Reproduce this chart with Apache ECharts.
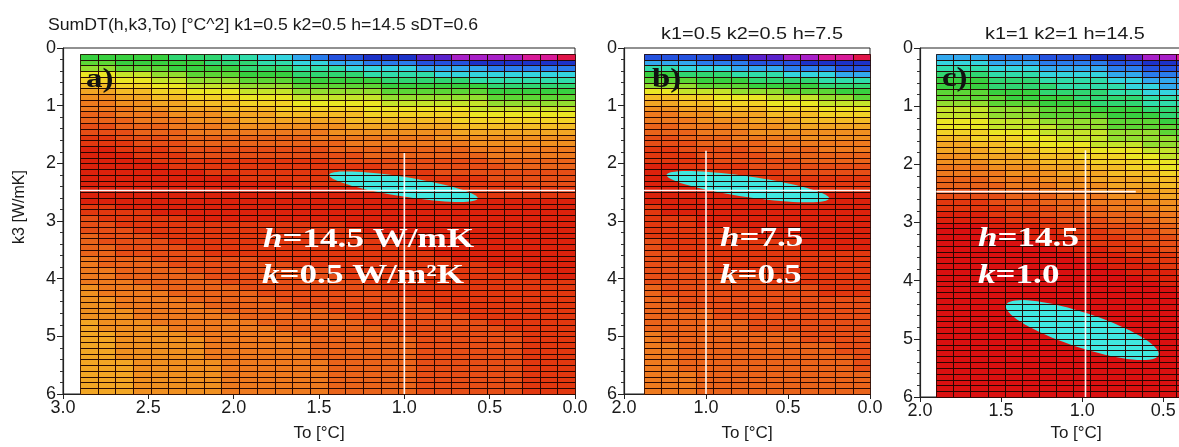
<!DOCTYPE html>
<html><head><meta charset="utf-8">
<script src="https://cdn.jsdelivr.net/npm/echarts@6/dist/echarts.min.js"></script>
<style>html,body{margin:0;padding:0;background:#fff;overflow:hidden}#c{width:1260px;height:447px}</style>
</head><body><div id="c"></div>
<script>
// ---------------- data ----------------
// k3 rows: from kTop downward in steps of kStep; To columns: from toMax down to 0
const kTop = 0.1, kStep = 0.1;
const aToMax = 2.9, bToMax = 1.38, cToMax = 1.9;
// each row: run-length coded colour level (A = deep red ... Z = pink-red)
const aRows = [
"O5P3Q2R2S1T1U2V3W2X4Y2Z1","N2O5P3Q2R2S2T3U3V6","M2N3O4P3Q3R4S4T5","K2L2M2N3O3P4Q4R8",
"J2K2L2M3N3O5P5Q6","I2J2K2L3M3N5O6P5","H2I2J2K3L3M5N6O5","G2H2I2J3K3L5M6N5",
"F2G2H2I3J3K5L6M5","F3G2H3I3J5K6L6","E2F3G3H3I5J6K6","E3F3G3H6I6J7",
"D2E3F3G7H6I7","D3E3F8G7H7","C2D3E8F7G8","C3D3E9F7G6",
"B2C3D9E8F6","B3C3D10E7F5","B4C10D9E5","B5C12D7E4",
"B7C13D8","B9C14D5","B12C13D3","B16C12",
"B20C8","B28","C2B26","C4B24",
"D1C5B22","D2C13B13","D3C13B12","E1D3C13B11",
"E1D4C13B10","E2D4C13B9","E2D5C13B8","F1E3D6C11B7",
"F1E4D7C11B5","F2E4D8C11B3","F2E5D8C11B2","F3E5D8C12",
"G1F3E5D8C11","G1F4E5D8C10","G2F4E5D8C9","G2F5E5D8C8",
"G3F5E6D7C7","G3F6E6D7C6","H1G3F6E6D7C5","H1G4F6E6D7C4",
"H2G4F6E6D7C3","H2G5F6E6D6C3","H2G5F6E6D6C3","H2G5F6E6D6C3",
"H2G5F6E6D6C3","H3G5F6E5D6C3","H3G5F6E5D6C3","H3G5F6E5D6C3",
"H3G5F6E5D6C3","H3G5F6E5D6C3","H3G5F6E5D6C3"
];
const bRows = [
"U4V2W2X2Y2Z1","S3T3U3V4","Q2R3S3T3U2","O2P3Q3R3S2",
"N3O3P4Q3","M3N3O4P3","K2L3M3N3O2","I2J2K3L3M2N1",
"H2I2J3K3L3","G2H2I3J3K3","F2G2H3I3J3","F3G3H3I4",
"E2F3G3H5","E3F3G7","D2E3F4G4","D3E4F6",
"C2D4E4F3","C3D4E6","C4D5E4","B2C4D7",
"B3C5D5","B4C9","B5C8","B10C3",
"B13","B13","C1B12","C1B12",
"C3B10","C3B10","C6B7","C6B7",
"D1C8B4","D1C8B4","D2C11","D2C11",
"D4C9","D4C9","D7C6","D7C6",
"E1D9C3","E1D9C3","E2D11","E2D11",
"E4D9","E4D9","E6D7","E6D7",
"F1E8D4","F1E8D4","F2E9D2","F2E9D2",
"F2E10D1","F2E10D1","F2E10D1","F3E10",
"F3E10","F3E10","F3E10"
];
const cRows = [
"S3T3U3V2W1X2Y2Z2","R3S3T4U2V3W3","Q3R3S4T2U3V3","P3Q3R4S2T3U3",
"O3P3Q4R2S3T3","O3P4Q4R2S3T2","N3O3P4Q2R3S3","N4O4P4Q3R3",
"M3N3O3P3Q4R2","L3M3N3O3P4Q2","L3M3N4O3P4Q1","K3L3M4N3O4P1",
"K3L4M3N4O4","J3K3L4M3N4O1","I2J3K2L3M4N4","H2I2J2K3L3M4N2",
"H3I3J3K3L2M4","G2H3I3J3K2L5","G3H3I3J3K2L4","F3G3H3I2J2K5",
"F4G3H3I3J2K3","E3F3G3H3I3J3","E4F3G3H3I3J2","D3E3F3G3H3I3",
"D4E3F3G3H3I2","C3D3E3F3G3H3","C4D3E3F3G3H2","B3C3D3E3F3G3",
"B4C3D3E3F3G2","A3B3C3D3E2F4","A4B3C3D3E2F3","A5B3C3D3E3F1",
"A6B3C3D3E3","A7B3C3D3E2","A8B3C3D3E1","A9B3C3D3",
"A10B3C3D2","A11B3C3D1","A12B3C3","A13B3C2",
"A14B3C1","A15B3","A18","A18",
"A18","A18","A18","A18",
"A18","A18","A18","A18",
"A18","A18","A18","A18",
"A18","A18","A18"
];
// minimum (cyan) regions: [To tip 1, k3 tip 1, To tip 2, k3 tip 2, half thickness in k3]
const aMinRegion = [1.44, 2.20, 0.57, 2.61, 0.17];
const bMinRegion = [1.24, 2.20, 0.25, 2.61, 0.18];
const cMinRegion = [1.47, 4.42, 0.53, 5.28, 0.30];
// white cross-hair lines [To, k3]
const aCrossH = [[2.9, 2.47], [0.0, 2.47]];
const aCrossV = [[1.0, 1.82], [1.0, 6.0]];
const bCrossH = [[1.38, 2.47], [0.0, 2.47]];
const bCrossV = [[1.0, 1.78], [1.0, 6.0]];
const cCrossH = [[1.9, 2.47], [0.67, 2.47]];
const cCrossV = [[0.98, 1.76], [0.98, 6.0]];
// tick labels of panel b (as printed)
const bTickValues = [1.5, 1.0, 0.5, 0.0];
const bTickLabels = ['2.0', '1.0', '0.5', '0.0'];
const titles = ['SumDT(h,k3,To) [°C^2] k1=0.5 k2=0.5 h=14.5 sDT=0.6', 'k1=0.5 k2=0.5 h=7.5', 'k1=1 k2=1 h=14.5'];

// ---------------- styles ----------------
const levelColors = {
  A:'#d91010', B:'#dc220c', C:'#e2380f', D:'#e64e16', E:'#ea641a', F:'#ee7a1e', G:'#f09020',
  H:'#f2a624', I:'#f4bc26', J:'#f2d226', K:'#eae624', L:'#c4e42a', M:'#92de30', N:'#5cd636',
  O:'#38d040', P:'#30d672', Q:'#30dcaa', R:'#34d4de', S:'#32a8ee', T:'#2a7cec', U:'#2452de',
  V:'#1c32c8', W:'#5a22cc', X:'#a820c8', Y:'#d81a98', Z:'#e01448'
};
const minColor = '#40e8e0';
const meshColor = 'rgba(35,5,0,0.82)';
const levelKeys = Object.keys(levelColors);
const SANS = '"Liberation Sans", Arial, sans-serif';
const SERIF = '"Liberation Serif", "Times New Roman", serif';

function decode(rows, toMax) {
  const parsed = rows.map(s => {
    const out = [];
    s.replace(/([A-Z])(\d+)/g, (m, ch, n) => { for (let i = 0; i < +n; i++) out.push(ch); return m; });
    return out;
  });
  const nC = parsed[0].length;
  const w = toMax / nC;
  const data = [];
  parsed.forEach((row, r) => {
    row.forEach((ch, c) => {
      data.push([toMax - c * w, toMax - (c + 1) * w, kTop + r * kStep, kTop + (r + 1) * kStep, levelKeys.indexOf(ch)]);
    });
  });
  return data;
}

function cellRect(api) {
  const p0 = api.coord([api.value(0), api.value(2)]);
  const p1 = api.coord([api.value(1), api.value(3)]);
  const x0 = Math.round(Math.min(p0[0], p1[0])), x1 = Math.round(Math.max(p0[0], p1[0]));
  const y0 = Math.round(Math.min(p0[1], p1[1])), y1 = Math.round(Math.max(p0[1], p1[1]));
  return { x: x0 + 0.5, y: y0 + 0.5, width: x1 - x0, height: y1 - y0 };
}
function renderFill(params, api) {
  const r = cellRect(api);
  return { type: 'rect', shape: { x: r.x - 0.5, y: r.y - 0.5, width: r.width + 0.5, height: r.height + 0.5 },
           style: { fill: levelColors[levelKeys[api.value(4)]] } };
}
function renderMesh(params, api) {
  return { type: 'rect', shape: cellRect(api), style: { fill: null, stroke: meshColor, lineWidth: 1 } };
}
function renderMin(params, api) {
  const p1 = api.coord([api.value(0), api.value(1)]);
  const p2 = api.coord([api.value(2), api.value(3)]);
  const b = Math.abs(api.size([0, api.value(4)])[1]);
  const cx = (p1[0] + p2[0]) / 2, cy = (p1[1] + p2[1]) / 2;
  const dx = p2[0] - p1[0], dy = p2[1] - p1[1];
  const a = Math.sqrt(dx * dx + dy * dy) / 2;
  const ang = Math.atan2(dy, dx);
  const ca = Math.cos(ang), sa = Math.sin(ang);
  const pts = [];
  for (let i = 0; i < 72; i++) {
    const t = i / 72 * Math.PI * 2;
    const u = a * Math.cos(t), v = b * Math.sin(t);
    pts.push([cx + u * ca - v * sa, cy + u * sa + v * ca]);
  }
  return { type: 'polygon', shape: { points: pts }, style: { fill: minColor } };
}

const grids = [
  { left: 63, top: 48, width: 512, height: 349 },
  { left: 624, top: 48, width: 246, height: 349 },
  { left: 920, top: 48, width: 332, height: 349 }
].map(g => Object.assign(g, { show: true, borderColor: '#222', borderWidth: 1, backgroundColor: 'transparent' }));

function xAxis(i, max, fmt, showName) {
  return {
    gridIndex: i, type: 'value', inverse: true, min: 0, max: max, interval: 0.5,
    axisLine: { onZero: false, lineStyle: { color: '#222', width: 1.2 } },
    axisTick: { show: true, length: 5, lineStyle: { color: '#222' } },
    splitLine: { show: false },
    axisLabel: { fontSize: 18, color: '#1a1a1a', fontFamily: SANS, margin: 5, formatter: fmt,
                 showMinLabel: true, showMaxLabel: true },
    name: showName ? 'To [°C]' : '', nameLocation: 'middle', nameGap: 31,
    nameTextStyle: { fontSize: 17, color: '#1a1a1a', fontFamily: SANS }
  };
}
function yAxis(i) {
  return {
    gridIndex: i, type: 'value', inverse: true, min: 0, max: 6, interval: 1,
    axisLine: { onZero: false, lineStyle: { color: '#222', width: 1.2 } },
    axisTick: { show: true, length: 6, lineStyle: { color: '#222' } },
    minorTick: { show: true, splitNumber: 5, length: 3, lineStyle: { color: '#333' } },
    splitLine: { show: false }, minorSplitLine: { show: false },
    axisLabel: { fontSize: 18, color: '#1a1a1a', fontFamily: SANS, margin: 7 }
  };
}

const fmt1 = v => v.toFixed(1);
const fmtB = v => { const k = bTickValues.findIndex(t => Math.abs(t - v) < 1e-6); return k >= 0 ? bTickLabels[k] : ''; };

function panelSeries(i, rows, toMax, minRegion, crossH, crossV) {
  const cells = decode(rows, toMax);
  const base = { xAxisIndex: i, yAxisIndex: i, silent: true };
  const line = pts => Object.assign({ type: 'line', data: pts, symbol: 'none', z: 6,
                       lineStyle: { color: '#ffffff', width: 1.6, opacity: 0.95 } }, base);
  return [
    Object.assign({ type: 'custom', renderItem: renderFill, data: cells, encode: { x: [0, 1], y: [2, 3] }, z: 2 }, base),
    Object.assign({ type: 'custom', renderItem: renderMin, data: [minRegion], encode: { x: [0, 2], y: [1, 3] }, z: 3 }, base),
    Object.assign({ type: 'custom', renderItem: renderMesh, data: cells, encode: { x: [0, 1], y: [2, 3] }, z: 4 }, base),
    line(crossH), line(crossV)
  ];
}

function txt(x, y, text, opt) {
  return Object.assign({ type: 'text', x: x, y: y, z: 100,
    style: Object.assign({ text: text, fill: '#1a1a1a', font: '17px ' + SANS,
      align: 'center', verticalAlign: 'middle', textAlign: 'center', textVerticalAlign: 'middle' }, opt.style || {}) },
    opt.el || {});
}
const whiteRich = {
  i: { fontStyle: 'italic', fontWeight: 'bold', fontFamily: SERIF, fontSize: 27, fill: '#fff', color: '#fff' },
  n: { fontWeight: 'bold', fontFamily: SERIF, fontSize: 27, fill: '#fff', color: '#fff' }
};
function whiteText(x, y, text) {
  return txt(x, y, text, { style: { rich: whiteRich, align: 'left', textAlign: 'left', fill: '#fff',
    font: 'bold 27px ' + SERIF }, el: { scaleX: 1.3 } });
}
function panelLetter(x, y, t) {
  return txt(x, y, t, { style: { align: 'left', textAlign: 'left', fill: '#111', font: 'bold 27px ' + SERIF }, el: { scaleX: 1.22 } });
}

const option = {
  animation: false,
  backgroundColor: '#ffffff',
  grid: grids,
  xAxis: [xAxis(0, 3, fmt1, true), xAxis(1, 1.5, fmtB, true), xAxis(2, 2, fmt1, false)],
  yAxis: [yAxis(0), yAxis(1), yAxis(2)],
  series: [].concat(
    panelSeries(0, aRows, aToMax, aMinRegion, aCrossH, aCrossV),
    panelSeries(1, bRows, bToMax, bMinRegion, bCrossH, bCrossV),
    panelSeries(2, cRows, cToMax, cMinRegion, cCrossH, cCrossV)
  ),
  graphic: [
    txt(263, 25, titles[0], { el: { scaleX: 1.04 } }),
    txt(752, 34, titles[1], { el: { scaleX: 1.17 } }),
    txt(1065, 34, titles[2], { el: { scaleX: 1.17 } }),
    txt(1076, 433, 'To [°C]', {}),
    txt(20, 207, 'k3 [W/mK]', { el: { rotation: Math.PI / 2 }, style: { font: '16px ' + SANS } }),
    panelLetter(86, 80, 'a)'), panelLetter(652, 80, 'b)'), panelLetter(942, 79, 'c)'),
    whiteText(263, 240, '{i|h}{n|=14.5 W/mK}'),
    whiteText(262, 276, '{i|k}{n|=0.5 W/m²K}'),
    whiteText(720, 239, '{i|h}{n|=7.5}'),
    whiteText(720, 276, '{i|k}{n|=0.5}'),
    whiteText(978, 239, '{i|h}{n|=14.5}'),
    whiteText(978, 276, '{i|k}{n|=1.0}')
  ]
};
const chart = echarts.init(document.getElementById('c'), null, { renderer: 'canvas' });
chart.setOption(option);
</script></body></html>
